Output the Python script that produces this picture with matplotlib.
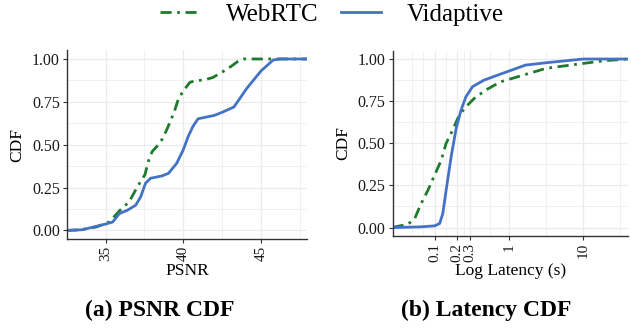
import numpy as np
import matplotlib
matplotlib.use("Agg")
import matplotlib.pyplot as plt
from matplotlib.lines import Line2D

plt.rcParams['font.family'] = ['Liberation Serif', 'DejaVu Serif']

# PSNR CDF values
psnr_webrtc_x = [32.5, 33.3, 34.41, 35.25, 35.89, 36.52, 37.05, 37.53, 37.78, 38.0, 38.3,
                 38.63, 38.95, 39.22, 39.47, 39.68, 40.0, 40.42, 40.74, 41.37, 41.9, 42.53,
                 43.05, 43.5, 43.9, 48.0]
psnr_webrtc_y = [0.0, 0.003, 0.02, 0.05, 0.114, 0.167, 0.255, 0.324, 0.41, 0.46, 0.49,
                 0.53, 0.59, 0.647, 0.706, 0.765, 0.814, 0.863, 0.873, 0.878, 0.892, 0.925,
                 0.955, 0.985, 1.0, 1.0]
psnr_vid_x = [32.5, 33.5, 34.41, 35.0, 35.46, 35.89, 36.41, 36.94, 37.26, 37.57, 37.89,
              38.63, 39.05, 39.58, 40.0, 40.32, 40.63, 40.95, 41.37, 42.0, 42.53, 43.26,
              44.1, 45.0, 45.8, 46.3, 48.0]
psnr_vid_y = [0.0, 0.004, 0.024, 0.037, 0.049, 0.098, 0.118, 0.147, 0.196, 0.275, 0.304,
              0.318, 0.333, 0.392, 0.47, 0.549, 0.608, 0.651, 0.659, 0.671, 0.69, 0.72,
              0.83, 0.93, 0.995, 1.0, 1.0]

# Latency CDF values (seconds)
lat_webrtc_x = [0.0273, 0.0293, 0.044, 0.054, 0.066, 0.0815, 0.1, 0.123, 0.143, 0.175,
                0.205, 0.251, 0.341, 0.489, 0.774, 1.107, 3.18, 10.0, 19.4, 40.0]
lat_webrtc_y = [0.0, 0.004, 0.02, 0.053, 0.143, 0.222, 0.311, 0.40, 0.50, 0.578,
                0.648, 0.707, 0.766, 0.816, 0.865, 0.885, 0.945, 0.974, 0.99, 1.0]
lat_vid_x = [0.0273, 0.063, 0.1, 0.117, 0.129, 0.143, 0.167, 0.195, 0.227, 0.264, 0.324,
             0.464, 0.774, 1.166, 1.67, 3.18, 10.0, 40.0]
lat_vid_y = [0.0, 0.004, 0.01, 0.024, 0.083, 0.222, 0.42, 0.588, 0.697, 0.776, 0.836,
             0.875, 0.911, 0.939, 0.964, 0.978, 1.0, 1.0]

green = "#1E7B2C"
blue = "#4472C4"
grid_c = "#EBEBEB"
dotdash = (0, (4, 2, 1, 2))

fig = plt.figure(figsize=(6.31, 3.29), dpi=100)
ax1 = fig.add_axes([0.1057, 0.2736, 0.3808, 0.5732])
ax2 = fig.add_axes([0.6223, 0.2827, 0.3727, 0.5635])


def style(ax):
    for s in ["top", "right"]:
        ax.spines[s].set_visible(False)
    for s in ["left", "bottom"]:
        ax.spines[s].set_color("#333333")
        ax.spines[s].set_linewidth(1.0)
    ax.tick_params(axis="both", which="major", length=3, color="#333333",
                   labelcolor="#1a1a1a", pad=2)
    ax.tick_params(axis="y", labelsize=11.5)
    ax.tick_params(axis="x", labelsize=11, labelrotation=90)
    ax.tick_params(axis="both", which="minor", length=0)
    ax.set_ylim(-0.05, 1.05)
    ax.set_yticks([0, 0.25, 0.5, 0.75, 1.0])
    ax.set_yticklabels(["0.00", "0.25", "0.50", "0.75", "1.00"])
    ax.set_yticks([0.125, 0.375, 0.625, 0.875], minor=True)
    ax.grid(True, which="major", color=grid_c, lw=0.9)
    ax.grid(True, which="minor", color=grid_c, lw=0.5)
    ax.set_axisbelow(True)
    ax.set_ylabel("CDF", fontsize=12.5, labelpad=5)


# (a) PSNR
ax1.plot(psnr_webrtc_x, psnr_webrtc_y, color=green, lw=2.0, linestyle=dotdash)
ax1.plot(psnr_vid_x, psnr_vid_y, color=blue, lw=2.0)
ax1.set_xlim(32.5, 47.96)
ax1.set_xticks([35, 40, 45])
ax1.set_xticks([32.5, 37.5, 42.5, 47.5], minor=True)
style(ax1)
ax1.set_xlabel("PSNR", fontsize=12.5, labelpad=1)

# (b) Latency
ax2.plot(lat_webrtc_x, lat_webrtc_y, color=green, lw=2.0, linestyle=dotdash)
ax2.plot(lat_vid_x, lat_vid_y, color=blue, lw=2.0)
ax2.set_xscale("log")
ax2.set_xlim(0.0273, 39.8)
ax2.set_xticks([0.1, 0.2, 0.3, 1, 10])
ax2.set_xticklabels(["0.1", "0.2", "0.3", "1", "10"])
ax2.set_xticks([0.05, 0.0707, 0.1416, 0.245, 0.548, 3.16, 31.6], minor=True)
ax2.set_xticklabels([], minor=True)
style(ax2)
ax2.set_xlabel("Log Latency (s)", fontsize=12.5, labelpad=1)

# legend on top
handles = [Line2D([], [], color=green, lw=2.0, linestyle=dotdash),
           Line2D([], [], color=blue, lw=2.0)]
fig.legend(handles, ["WebRTC", "Vidaptive"], loc="center", ncol=2,
           bbox_to_anchor=(0.526, 0.955), frameon=False, fontsize=18,
           handlelength=1.6, columnspacing=0.9, handletextpad=1.05)

fig.text(0.2536, 0.055, "(a) PSNR CDF", ha="center", va="center",
         fontsize=17, fontweight="bold")
fig.text(0.770, 0.055, "(b) Latency CDF", ha="center", va="center",
         fontsize=17, fontweight="bold")

fig.savefig("out.png", dpi=100)
